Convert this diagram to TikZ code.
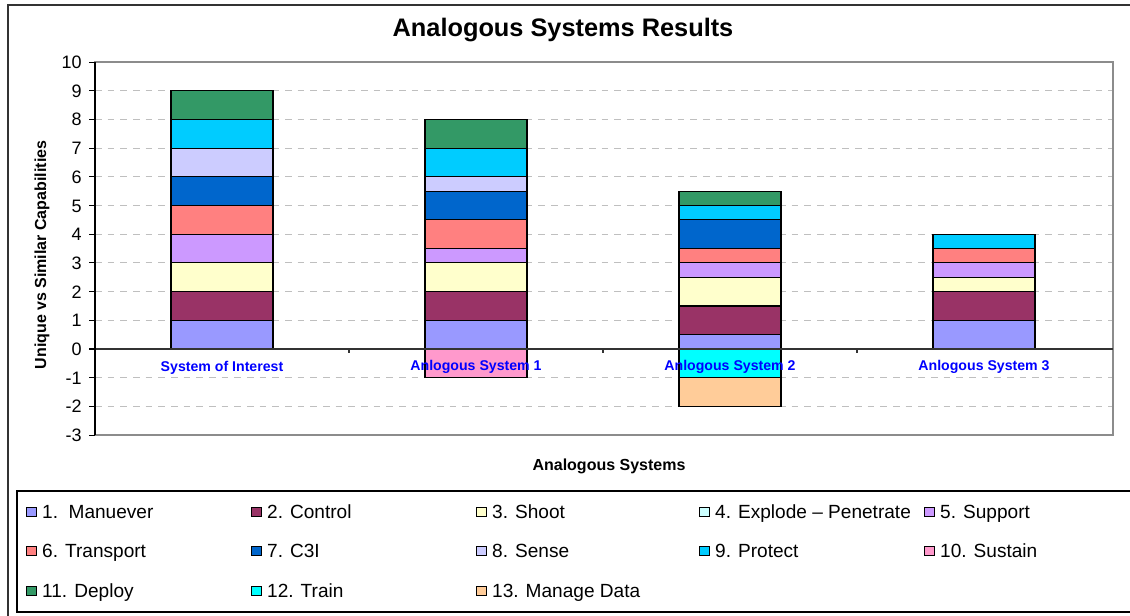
\documentclass[tikz,border=0pt]{standalone}
\usepackage{fontspec}
\setmainfont{Liberation Sans}
\usetikzlibrary{positioning}
\definecolor{manblue}{RGB}{153,153,255}
\definecolor{ctrlplum}{RGB}{153,51,102}
\definecolor{shootcream}{RGB}{255,255,204}
\definecolor{explcyan}{RGB}{204,255,255}
\definecolor{suplilac}{RGB}{204,153,255}
\definecolor{transsalmon}{RGB}{255,128,128}
\definecolor{cthreeblue}{RGB}{0,102,204}
\definecolor{senselav}{RGB}{204,204,255}
\definecolor{protsky}{RGB}{0,204,255}
\definecolor{sustpink}{RGB}{255,153,204}
\definecolor{deploygreen}{RGB}{51,153,102}
\definecolor{trainaqua}{RGB}{0,255,255}
\definecolor{datapeach}{RGB}{255,204,153}
\definecolor{catblue}{RGB}{0,0,255}

\begin{document}
\begin{tikzpicture}[x=0.75pt, y=-0.75pt,
  seg/.style={draw=black, line width=0.8pt},
  gridline/.style={draw=black!25, line width=0.7pt, dash pattern=on 5pt off 4.5pt},
  ticklbl/.style={anchor=east, inner sep=0pt, text height=9.7pt, text depth=0pt, font=\fontsize{13.5}{16}\selectfont},
  catlbl/.style={text=catblue, inner sep=0pt, font=\fontsize{10.6}{12}\selectfont\bfseries},
  legsq/.style={draw=black, line width=0.6pt, minimum size=7pt, inner sep=0pt},
  legtxt/.style={inner sep=0pt, text height=10.2pt, text depth=0pt, font=\fontsize{14.3}{17}\selectfont}
]
  \useasboundingbox (0,0) rectangle (1130,615);
  \clip (0,0) rectangle (1130,615);
  \fill[white] (0,0) rectangle (1130,615);

  % chart frame and title
  \draw[black!80, line width=1.1pt] (8,5) rectangle (1145,630);
  \node[font=\fontsize{19}{22}\selectfont\bfseries] (title) at (563,30) {Analogous Systems Results};

  \begin{scope}[shift={(0,349)}, y=21.52pt]
    % grid
    \foreach \v in {-2,-1,1,2,3,4,5,6,7,8,9}
      \draw[gridline] (95,\v) -- (1113,\v);
    \draw[black!45, line width=1.1pt] (95,-3) rectangle (1113,10);

    % System of Interest
    \draw[seg, fill=manblue] (171,0) rectangle (273,1);
    \draw[seg, fill=ctrlplum] (171,1) rectangle (273,2);
    \draw[seg, fill=shootcream] (171,2) rectangle (273,3);
    \draw[seg, fill=suplilac] (171,3) rectangle (273,4);
    \draw[seg, fill=transsalmon] (171,4) rectangle (273,5);
    \draw[seg, fill=cthreeblue] (171,5) rectangle (273,6);
    \draw[seg, fill=senselav] (171,6) rectangle (273,7);
    \draw[seg, fill=protsky] (171,7) rectangle (273,8);
    \draw[seg, fill=deploygreen] (171,8) rectangle (273,9);

    % Anlogous System 1
    \draw[seg, fill=manblue] (425,0) rectangle (527,1);
    \draw[seg, fill=ctrlplum] (425,1) rectangle (527,2);
    \draw[seg, fill=shootcream] (425,2) rectangle (527,3);
    \draw[seg, fill=suplilac] (425,3) rectangle (527,3.5);
    \draw[seg, fill=transsalmon] (425,3.5) rectangle (527,4.5);
    \draw[seg, fill=cthreeblue] (425,4.5) rectangle (527,5.5);
    \draw[seg, fill=senselav] (425,5.5) rectangle (527,6);
    \draw[seg, fill=protsky] (425,6) rectangle (527,7);
    \draw[seg, fill=deploygreen] (425,7) rectangle (527,8);
    \draw[seg, fill=sustpink] (425,0) rectangle (527,-1);

    % Anlogous System 2
    \draw[seg, fill=manblue] (679,0) rectangle (781,0.5);
    \draw[seg, fill=ctrlplum] (679,0.5) rectangle (781,1.5);
    \draw[seg, fill=shootcream] (679,1.5) rectangle (781,2.5);
    \draw[seg, fill=suplilac] (679,2.5) rectangle (781,3);
    \draw[seg, fill=transsalmon] (679,3) rectangle (781,3.5);
    \draw[seg, fill=cthreeblue] (679,3.5) rectangle (781,4.5);
    \draw[seg, fill=protsky] (679,4.5) rectangle (781,5);
    \draw[seg, fill=deploygreen] (679,5) rectangle (781,5.5);
    \draw[seg, fill=trainaqua] (679,0) rectangle (781,-1);
    \draw[seg, fill=datapeach] (679,-1) rectangle (781,-2);

    % Anlogous System 3
    \draw[seg, fill=manblue] (933,0) rectangle (1035,1);
    \draw[seg, fill=ctrlplum] (933,1) rectangle (1035,2);
    \draw[seg, fill=shootcream] (933,2) rectangle (1035,2.5);
    \draw[seg, fill=suplilac] (933,2.5) rectangle (1035,3);
    \draw[seg, fill=transsalmon] (933,3) rectangle (1035,3.5);
    \draw[seg, fill=protsky] (933,3.5) rectangle (1035,4);

    % axes
    \draw[black!80, line width=0.8pt] (95,0) -- (1113,0);
    \draw[black!80, line width=0.8pt] (349,0) -- (349,-0.15) (603,0) -- (603,-0.15) (857,0) -- (857,-0.15);
    \draw[black, line width=0.8pt] (95,-3) -- (95,10);
    \foreach \v in {-3,...,10} {
      \draw[black, line width=0.8pt] (89,\v) -- (95,\v);
      \node[ticklbl] (t\v) at (82,\v) {\v};
    }

    \node[catlbl] (soi) at (222,-0.64) {System of Interest};
    \node[catlbl] (as1) at (476,-0.64) {Anlogous System 1};
    \node[catlbl] (as2) at (730,-0.64) {Anlogous System 2};
    \node[catlbl] (as3) at (984,-0.64) {Anlogous System 3};
  \end{scope}

  \node[rotate=90, font=\fontsize{12}{14}\selectfont\bfseries] (ytitle) at (42,255) {Unique vs Similar Capabilities};
  \node[font=\fontsize{12}{14}\selectfont\bfseries] (xtitle) at (609,466) {Analogous Systems};

  % legend
  \draw[black, line width=0.8pt] (17,491) rectangle (1145,612);
  \node[legsq, fill=manblue] (sq1) at (31.5,512) {};
  \node[legtxt, right=4pt of sq1] (l1) {1.\ \ Manuever};
  \node[legsq, fill=ctrlplum] (sq2) at (256.5,512) {};
  \node[legtxt, right=4pt of sq2] (l2) {2. Control};
  \node[legsq, fill=shootcream] (sq3) at (481.5,512) {};
  \node[legtxt, right=4pt of sq3] (l3) {3. Shoot};
  \node[legsq, fill=explcyan] (sq4) at (704.5,512) {};
  \node[legtxt, right=4pt of sq4] (l4) {4. Explode -- Penetrate};
  \node[legsq, fill=suplilac] (sq5) at (929.5,512) {};
  \node[legtxt, right=4pt of sq5] (l5) {5. Support};

  \node[legsq, fill=transsalmon] (sq6) at (31.5,551) {};
  \node[legtxt, right=4pt of sq6] (l6) {6. Transport};
  \node[legsq, fill=cthreeblue] (sq7) at (256.5,551) {};
  \node[legtxt, right=4pt of sq7] (l7) {7. C3I};
  \node[legsq, fill=senselav] (sq8) at (481.5,551) {};
  \node[legtxt, right=4pt of sq8] (l8) {8. Sense};
  \node[legsq, fill=protsky] (sq9) at (704.5,551) {};
  \node[legtxt, right=4pt of sq9] (l9) {9. Protect};
  \node[legsq, fill=sustpink] (sq10) at (929.5,551) {};
  \node[legtxt, right=4pt of sq10] (l10) {10. Sustain};

  \node[legsq, fill=deploygreen] (sq11) at (31.5,591) {};
  \node[legtxt, right=4pt of sq11] (l11) {11. Deploy};
  \node[legsq, fill=trainaqua] (sq12) at (256.5,591) {};
  \node[legtxt, right=4pt of sq12] (l12) {12. Train};
  \node[legsq, fill=datapeach] (sq13) at (481.5,591) {};
  \node[legtxt, right=4pt of sq13] (l13) {13. Manage Data};
\end{tikzpicture}
\end{document}
